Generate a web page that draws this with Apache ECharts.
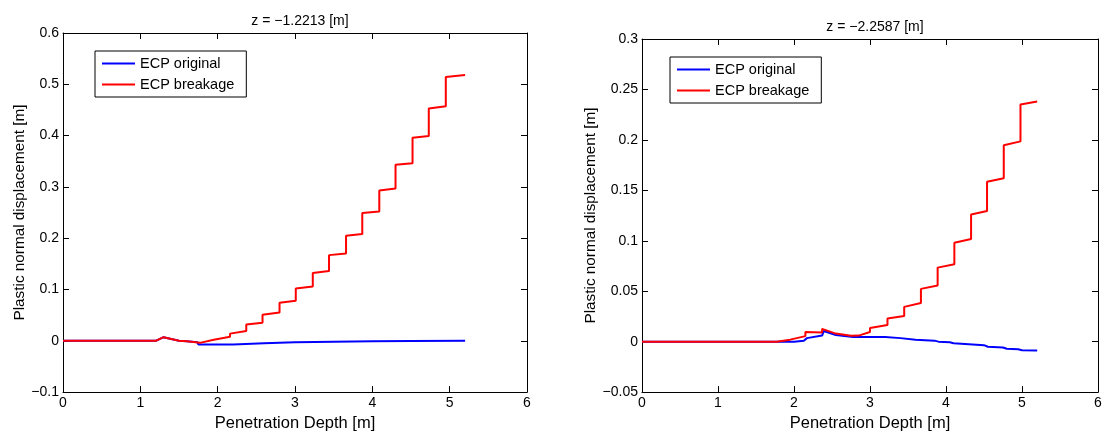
<!DOCTYPE html>
<html>
<head>
<meta charset="utf-8">
<script src="https://cdn.jsdelivr.net/npm/echarts@6/dist/echarts.min.js"></script>
<style>html,body{margin:0;padding:0;background:#fff;}#c{width:1105px;height:437px;}</style>
</head>
<body>
<div id="c"></div>
<script>
// ---- data (x = penetration depth [m], y = plastic normal displacement [m]) ----
var seriesNames = ['ECP original', 'ECP breakage'];
var titles = ['z = \u22121.2213 [m]', 'z = \u22122.2587 [m]'];
var xAxisName = 'Penetration Depth [m]';
var yAxisName = 'Plastic normal displacement [m]';

var leftOriginal = [[0,0],[1.2,0],[1.3,0.007],[1.5,0.0],[1.6,-0.001],[1.74,-0.003],[1.75,-0.007],[1.95,-0.007],[1.96,-0.01],[2.2,-0.007],[2.6,-0.005],[3.0,-0.003],[3.5,-0.002],[4.0,-0.001],[4.5,-0.0005],[5.2,0]];
var leftBreakage = [[0,0],[1.2,0],[1.3,0.007],[1.5,0.0],[1.6,-0.001],[1.77,-0.004],[1.95,0.002],[2.16,0.008],[2.16,0.014],[2.37,0.019],[2.37,0.032],[2.58,0.035],[2.58,0.051],[2.80,0.055],[2.80,0.074],[3.01,0.078],[3.01,0.102],[3.23,0.106],[3.23,0.132],[3.44,0.136],[3.44,0.167],[3.66,0.170],[3.66,0.205],[3.87,0.208],[3.87,0.249],[4.09,0.252],[4.09,0.293],[4.30,0.297],[4.30,0.343],[4.52,0.346],[4.52,0.396],[4.73,0.399],[4.73,0.453],[4.95,0.457],[4.95,0.514],[5.2,0.518]];
var rightOriginal = [[0,0],[2.0,0],[2.13,0.001],[2.17,0.0035],[2.37,0.006],[2.39,0.0105],[2.55,0.0065],[2.78,0.0045],[2.8,0.0035],[3.0,0.0045],[3.2,0.0045],[3.4,0.0035],[3.6,0.002],[3.85,0.001],[3.9,0],[4.05,-0.0005],[4.1,-0.0015],[4.3,-0.0025],[4.5,-0.0035],[4.55,-0.005],[4.75,-0.0058],[4.8,-0.007],[4.95,-0.0075],[5.0,-0.0085],[5.2,-0.0088]];
var rightBreakage = [[0,0],[1.77,0],[1.95,0.002],[1.95,0.0036],[2.15,0.0055],[2.15,0.0095],[2.37,0.009],[2.37,0.0127],[2.55,0.008],[2.75,0.0058],[2.85,0.006],[3.0,0.0095],[3.0,0.0135],[3.23,0.0165],[3.23,0.023],[3.45,0.0255],[3.45,0.0345],[3.67,0.0383],[3.67,0.0523],[3.89,0.0556],[3.89,0.0734],[4.11,0.0767],[4.11,0.098],[4.33,0.1017],[4.33,0.126],[4.54,0.1296],[4.54,0.1586],[4.76,0.162],[4.76,0.1946],[4.98,0.1985],[4.98,0.235],[5.2,0.238]];

var xRange = {min: 0, max: 6, interval: 1};
var yRangeLeft = {min: -0.1, max: 0.6, interval: 0.1};
var yRangeRight = {min: -0.05, max: 0.3, interval: 0.05};

// ---- styling ----
var FONT = 'Liberation Sans, Arial, Helvetica, sans-serif';
var BLUE = '#0000ff', RED = '#ff0000';
function fmt(v){ var s = String(Math.round(v*1000)/1000); return s.replace('-', '\u2212'); }
function mkLine(){ return {show: true, onZero: false, lineStyle: {color: '#000', width: 1}}; }
function mkTick(){ return {show: true, inside: true, length: 6, interval: 0, lineStyle: {color: '#000', width: 1}}; }

var grids = [
  {left: 63, right: 578, top: 33, bottom: 39},
  {left: 642, right: 7, top: 39, bottom: 39}
];
var xAxes = [], yAxes = [];
function addAxes(gi, yr){
  xAxes.push({type: 'value', gridIndex: gi, position: 'bottom', min: xRange.min, max: xRange.max, interval: xRange.interval,
    axisLine: mkLine(), axisTick: mkTick(),
    axisLabel: {color: '#000', fontFamily: FONT, fontSize: 14, margin: 4},
    splitLine: {show: false},
    name: xAxisName, nameLocation: 'middle', nameGap: 18,
    nameTextStyle: {color: '#000', fontFamily: FONT, fontSize: 16.5}});
  xAxes.push({type: 'value', gridIndex: gi, position: 'top', min: xRange.min, max: xRange.max, interval: xRange.interval,
    axisLine: mkLine(), axisTick: mkTick(),
    axisLabel: {show: false}, splitLine: {show: false}});
  yAxes.push({type: 'value', gridIndex: gi, position: 'left', min: yr.min, max: yr.max, interval: yr.interval,
    axisLine: mkLine(), axisTick: mkTick(),
    axisLabel: {color: '#000', fontFamily: FONT, fontSize: 14, margin: 4, formatter: fmt},
    splitLine: {show: false},
    name: yAxisName, nameLocation: 'middle', nameGap: gi === 0 ? 35 : 42, nameRotate: 90,
    nameTextStyle: {color: '#000', fontFamily: FONT, fontSize: 15.3}});
  yAxes.push({type: 'value', gridIndex: gi, position: 'right', min: yr.min, max: yr.max, interval: yr.interval,
    axisLine: mkLine(), axisTick: mkTick(),
    axisLabel: {show: false}, splitLine: {show: false}});
}
addAxes(0, yRangeLeft);
addAxes(1, yRangeRight);

function mk(name, data, color, xi, yi){
  return {name: name, type: 'line', data: data, xAxisIndex: xi, yAxisIndex: yi, showSymbol: false, symbol: 'none',
    lineStyle: {color: color, width: 2}, itemStyle: {color: color}, animation: false, z: name === seriesNames[1] ? 3 : 2};
}

function legend(left, top){
  return {orient: 'vertical', left: left, top: top, data: seriesNames, icon: 'rect', itemWidth: 33, itemHeight: 2,
    itemGap: 6, padding: [5, 12, 5, 7], borderColor: '#000', borderWidth: 1, backgroundColor: '#fff',
    textStyle: {color: '#000', fontFamily: FONT, fontSize: 14.5}, selectedMode: false};
}

var option = {
  animation: false,
  backgroundColor: '#fff',
  title: [
    {text: titles[0], left: 295, top: 9, textAlign: 'center', textStyle: {color: '#000', fontFamily: FONT, fontSize: 14, fontWeight: 'normal'}},
    {text: titles[1], left: 870, top: 15, textAlign: 'center', textStyle: {color: '#000', fontFamily: FONT, fontSize: 14, fontWeight: 'normal'}}
  ],
  legend: [legend(95, 51), legend(670, 57)],
  grid: grids,
  xAxis: xAxes,
  yAxis: yAxes,
  series: [
    mk(seriesNames[0], leftOriginal, BLUE, 0, 0),
    mk(seriesNames[1], leftBreakage, RED, 0, 0),
    mk(seriesNames[0], rightOriginal, BLUE, 2, 2),
    mk(seriesNames[1], rightBreakage, RED, 2, 2)
  ]
};
var chart = echarts.init(document.getElementById('c'), null, {renderer: 'canvas'});
chart.setOption(option);
</script>
</body>
</html>
